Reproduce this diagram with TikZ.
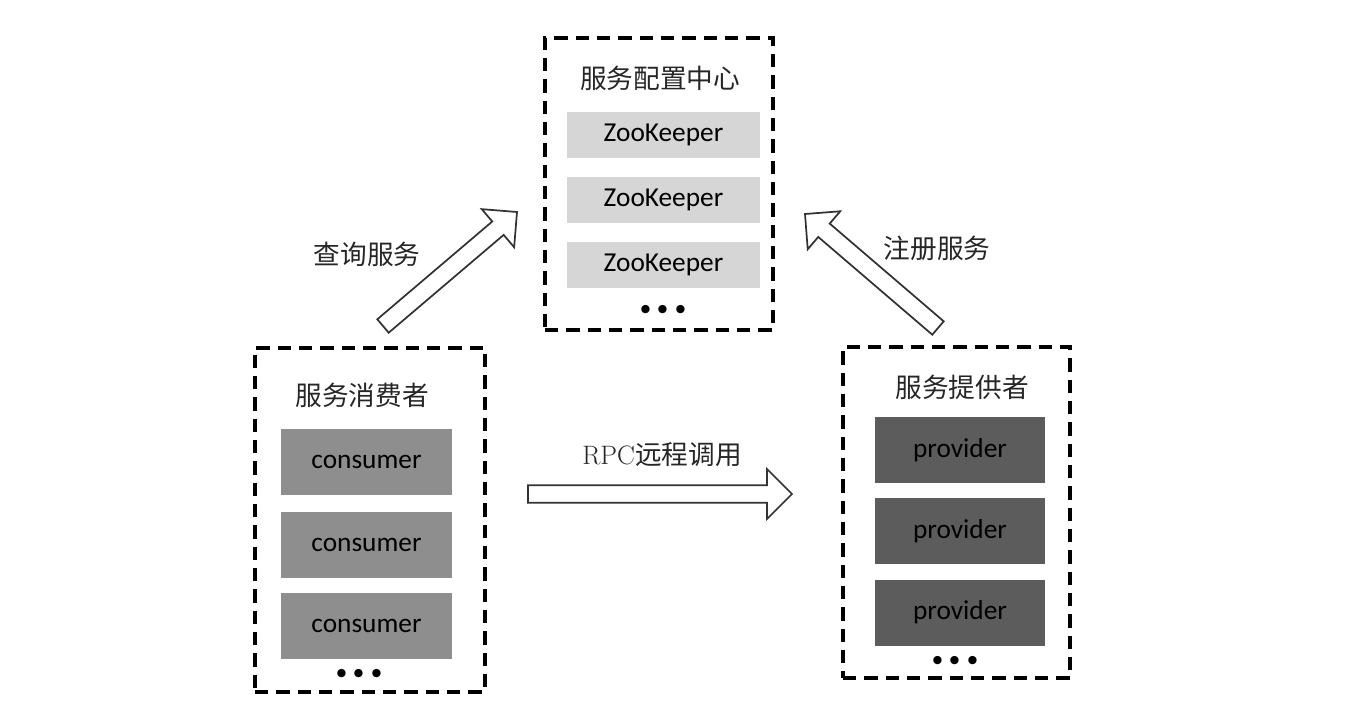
\documentclass[tikz,border=0pt]{standalone}
\usepackage{fontspec}
\newfontfamily\cjk{Noto Sans CJK SC}
\newfontfamily\lat{Carlito}
\usetikzlibrary{calc}

\definecolor{zkgray}{HTML}{D6D6D6}
\definecolor{cogray}{HTML}{8E8E8E}
\definecolor{prgray}{HTML}{5C5C5C}
\definecolor{edgegray}{HTML}{333333}

\newcommand\threedots{\textbullet\kern-7pt\textbullet\kern-7pt\textbullet}

\tikzset{
    group/.style = {draw, line width=3pt, dash pattern=on 10pt off 6pt},
    member/.style = {font=\lat\fontsize{20.5}{24}\selectfont, text=black},
    title/.style = {font=\cjk\fontsize{20}{24}\selectfont, text=black!85},
    dots/.style = {font=\fontsize{28}{30}\selectfont, inner sep=0pt},
    fat/.style = {draw=edgegray, line width=1.3pt, fill=white, line join=miter}
}

% block arrow from #1 to #2
\newcommand\fatarrow[2]{%
    \coordinate (#1h) at ($(#2)!18.75pt!(#1)$);
    \draw[fat] ($(#1)!6.6pt!90:(#2)$) -- ($(#1h)!6.6pt!90:(#2)$) -- ($(#1h)!18.75pt!90:(#2)$)
        -- (#2) -- ($(#1h)!18.75pt!-90:(#2)$) -- ($(#1h)!6.6pt!-90:(#2)$) -- ($(#1)!6.6pt!-90:(#2)$) -- cycle;
}

\begin{document}
\begin{tikzpicture}[x=0.75pt, y=-0.75pt]
    \useasboundingbox (0,0) rectangle (1347,702);

    % service registry
    \node[group, minimum width=171pt, minimum height=219pt] (cfg) at (659,184) {};
    \node[title] (cfgt) at (660,78) {服务配置中心};
    \foreach \i/\y in {1/135, 2/200, 3/265}
        \node[member, fill=zkgray, minimum width=144.75pt, minimum height=34.5pt] (zk\i) at (663.5,\y) {ZooKeeper};
    \node[dots] (cfgd) at (663,312) {\threedots};

    % consumers
    \node[group, minimum width=172.5pt, minimum height=258pt] (cons) at (370,520) {};
    \node[title] (const) at (362,395) {服务消费者};
    \foreach \i/\y in {1/462, 2/544.5, 3/625.5}
        \node[member, fill=cogray, minimum width=128.25pt, minimum height=49.5pt] (co\i) at (366.5,\y) {consumer};
    \node[dots] (consd) at (359,676) {\threedots};

    % providers
    \node[group, minimum width=170.25pt, minimum height=248.25pt] (prov) at (956.5,512.5) {};
    \node[title] (provt) at (962,387) {服务提供者};
    \foreach \i/\y in {1/450, 2/531, 3/612.5}
        \node[member, fill=prgray, minimum width=127.5pt, minimum height=49.5pt] (pr\i) at (960,\y) {provider};
    \node[dots] (provd) at (955,663) {\threedots};

    % arrows
    \coordinate (qs) at (383,326);
    \coordinate (qe) at (517,212);
    \coordinate (rs) at (938,328);
    \coordinate (re) at (805,214);
    \coordinate (cs) at (528,494);
    \coordinate (ce) at (792,494);
    \fatarrow{qs}{qe}
    \fatarrow{rs}{re}
    \fatarrow{cs}{ce}

    \node[title] (ql) at (367,254) {查询服务};
    \node[title] (rl) at (937,248) {注册服务};
    \node[title] (cl) at (662,455) {{\rmfamily RPC}远程调用};
\end{tikzpicture}
\end{document}
